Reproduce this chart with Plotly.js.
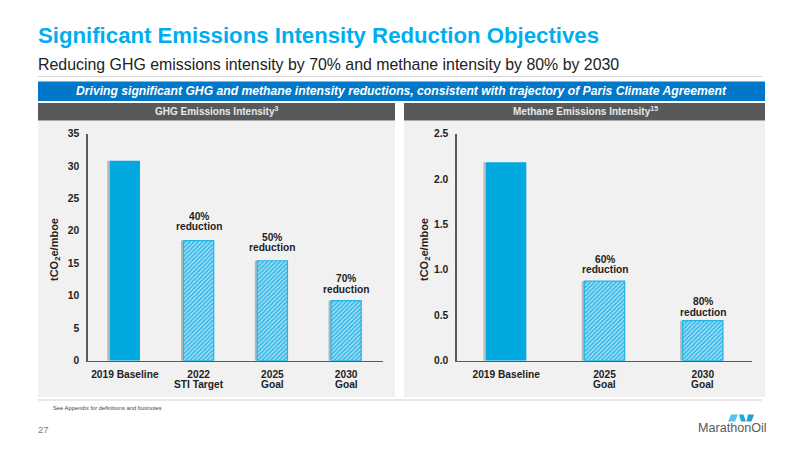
<!DOCTYPE html>
<html><head><meta charset="utf-8">
<script src="https://cdn.plot.ly/plotly-3.0.1.min.js"></script>
<style>html,body{margin:0;padding:0;background:#fff}#c{width:800px;height:450px}</style>
</head><body><div id="c"></div>
<script>
const ghgCategories = ['2019 Baseline','2022','2025','2030'];
const ghgSubLabels = ['','STI Target','Goal','Goal'];
const ghgValues = [30.8,18.5,15.4,9.25];
const ghgPercents = ['', '40%','50%','70%'];
const ghgTicks = [0,5,10,15,20,25,30,35];
const methaneCategories = ['2019 Baseline','2025','2030'];
const methaneSubLabels = ['','Goal','Goal'];
const methaneValues = [2.185,0.875,0.44];
const methanePercents = ['', '60%','80%'];
const methaneTicks = [0,0.5,1,1.5,2,2.5];
const methaneTickText = ['0.0','0.5','1.0','1.5','2.0','2.5'];
const blue='#00a9e0', FONT='"Liberation Sans", Arial, sans-serif', W=800, H=450;
const px=x=>x/W, py=y=>1-y/H;

function series(cats, vals, xa, ya, stripW){
  const w=0.41;
  const shadow={type:'bar',x:cats,y:vals,xaxis:xa,yaxis:ya,width:stripW,offset:-w/2-stripW,
    marker:{color:'rgba(90,90,90,0.38)',line:{width:0}},hoverinfo:'skip',showlegend:false};
  const solid={type:'bar',x:cats.slice(0,1),y:vals.slice(0,1),xaxis:xa,yaxis:ya,width:w,offset:-w/2,showlegend:false,hoverinfo:'skip',
    marker:{color:blue,line:{width:0}}};
  const hatched={type:'bar',x:cats.slice(1),y:vals.slice(1),xaxis:xa,yaxis:ya,width:w,offset:-w/2,showlegend:false,hoverinfo:'skip',
    marker:{color:'#2fb6e6',line:{color:'#25b4e8',width:1.2},
      pattern:{shape:'/',fgcolor:'#b9e7f7',bgcolor:'#35b8e8',size:3,solidity:0.4}}};
  return [shadow,solid,hatched];
}
const data=[...series(ghgCategories,ghgValues,'x','y',0.034),...series(methaneCategories,methaneValues,'x2','y2',0.026)];

const rect=(x0,y0,x1,y1,c)=>({type:'rect',xref:'paper',yref:'paper',x0:px(x0),x1:px(x1),y0:py(y0),y1:py(y1),fillcolor:c,line:{width:0},layer:'below'});
const hline=(x0,x1,y,c,wd)=>({type:'line',xref:'paper',yref:'paper',x0:px(x0),x1:px(x1),y0:py(y),y1:py(y),line:{color:c,width:wd},layer:'below'});
const shapes=[
  hline(38,762,76.5,'#d4d4d4',1.2),
  rect(38,81.5,765,101,'#0077c8'),
  rect(38,103,395,120.5,'#58595b'),
  rect(404,103,765,120.5,'#58595b'),
  rect(38,121,395,397,'#f1f1f1'),
  rect(404,121,765,397,'#f1f1f1'),
  hline(38,762,400,'#d4d4d4',1.2),
];
// logo waves
[[[731,414.5],[738,414.5],[735,421.5],[728,421.5],'#55c4ec'],
 [[739,414.5],[743.5,414.5],[746,421.5],[741,421.5],'#1fa9e2'],
 [[748,414.5],[754,414.5],[751.5,421.5],[746.5,421.5],'#1fa0dc']].forEach(q=>{
  const d='M'+q.slice(0,4).map(p=>px(p[0]).toFixed(5)+','+py(p[1]).toFixed(5)).join(' L')+' Z';
  shapes.push({type:'path',xref:'paper',yref:'paper',path:d,fillcolor:q[4],line:{width:0}});
});

const txt=(x,y,text,size,color,opt={})=>Object.assign({xref:'paper',yref:'paper',x:px(x),y:py(y),text,showarrow:false,
  xanchor:'left',yanchor:'middle',align:'left',font:{family:FONT,size,color}},opt);
const centered={xanchor:'center',align:'center'};
const annotations=[
  txt(35.5,36,'<b>Significant Emissions Intensity Reduction Objectives</b>',22.2,'#00aeef'),
  txt(35.5,64,'Reducing GHG emissions intensity by 70% and methane intensity by 80% by 2030',15.9,'#222222'),
  txt(401.5,90.5,'<b><i>Driving significant GHG and methane intensity reductions, consistent with trajectory of Paris Climate Agreement</i></b>',12.17,'#ffffff',centered),
  txt(216.5,111,'<b>GHG Emissions Intensity<sup>3</sup></b>',10,'#e8e8e8',centered),
  txt(585,111,'<b>Methane Emissions Intensity<sup>15</sup></b>',10,'#e8e8e8',centered),
  txt(50.5,408,'See Appendix for definitions and footnotes',5.8,'#444444'),
  txt(35.5,429,'27',9.5,'#808080'),
  txt(695.5,428,'MarathonOil',12.6,'#595b5d'),
  txt(55,250,'<b>tCO<sub>2</sub>e/mboe</b>',11,'#222222',Object.assign({textangle:-90},centered)),
  txt(425,250,'<b>tCO<sub>2</sub>e/mboe</b>',11,'#222222',Object.assign({textangle:-90},centered)),
];
function addLabels(vals, pcts, subs, xa, ya, gaps){
  const f={family:FONT,size:10.2,color:'#222'};
  pcts.forEach((t,i)=>{
    if(!t) return;
    const g=gaps[i];
    annotations.push({xref:xa,yref:ya,x:i,y:vals[i],text:'<b>'+t+'</b>',showarrow:false,yanchor:'middle',yshift:g+10.3,font:f});
    annotations.push({xref:xa,yref:ya,x:i,y:vals[i],text:'<b>reduction</b>',showarrow:false,yanchor:'middle',yshift:g,font:f});
  });
  subs.forEach((t,i)=>{
    if(!t) return;
    annotations.push({xref:xa,yref:'paper',x:i,y:py(384),text:'<b>'+t+'</b>',showarrow:false,yanchor:'middle',font:f});
  });
}
addLabels(ghgValues,ghgPercents,ghgSubLabels,'x','y',[0,14.2,13.4,11.4]);
addLabels(methaneValues,methanePercents,methaneSubLabels,'x2','y2',[0,11.7,8.7]);

const xAxis=(x0,x1,cats,anchor)=>({domain:[px(x0),px(x1)],anchor,type:'category',categoryorder:'array',categoryarray:cats,range:[-0.5,cats.length-0.5],
  showgrid:false,zeroline:false,showline:true,linecolor:'#595959',linewidth:1.6,ticks:'outside',ticklen:3,tickcolor:'rgba(0,0,0,0)',fixedrange:true,
  tickfont:{family:FONT,size:10.2,color:'#222',weight:'bold'}});
const yAxis=(max,vals,txts,anchor)=>({domain:[py(360.7),py(133.5)],anchor,range:[0,max],tickmode:'array',tickvals:vals,ticktext:txts,
  showgrid:false,zeroline:false,showline:true,linecolor:'#595959',linewidth:1.6,ticks:'outside',ticklen:5,tickcolor:'rgba(0,0,0,0)',fixedrange:true,
  tickfont:{family:FONT,size:10.3,color:'#222',weight:'bold'}});

const layout={width:W,height:H,margin:{l:0,r:0,t:0,b:0},paper_bgcolor:'#fff',plot_bgcolor:'rgba(0,0,0,0)',
  barmode:'overlay',showlegend:false,shapes,annotations,font:{family:FONT},
  xaxis:xAxis(88,383,ghgCategories,'y'),
  yaxis:yAxis(35,ghgTicks,ghgTicks.map(String),'x'),
  xaxis2:xAxis(457,752,methaneCategories,'y2'),
  yaxis2:yAxis(2.5,methaneTicks,methaneTickText,'x2')};
Plotly.newPlot('c',data,layout,{displayModeBar:false,staticPlot:true});
</script></body></html>
